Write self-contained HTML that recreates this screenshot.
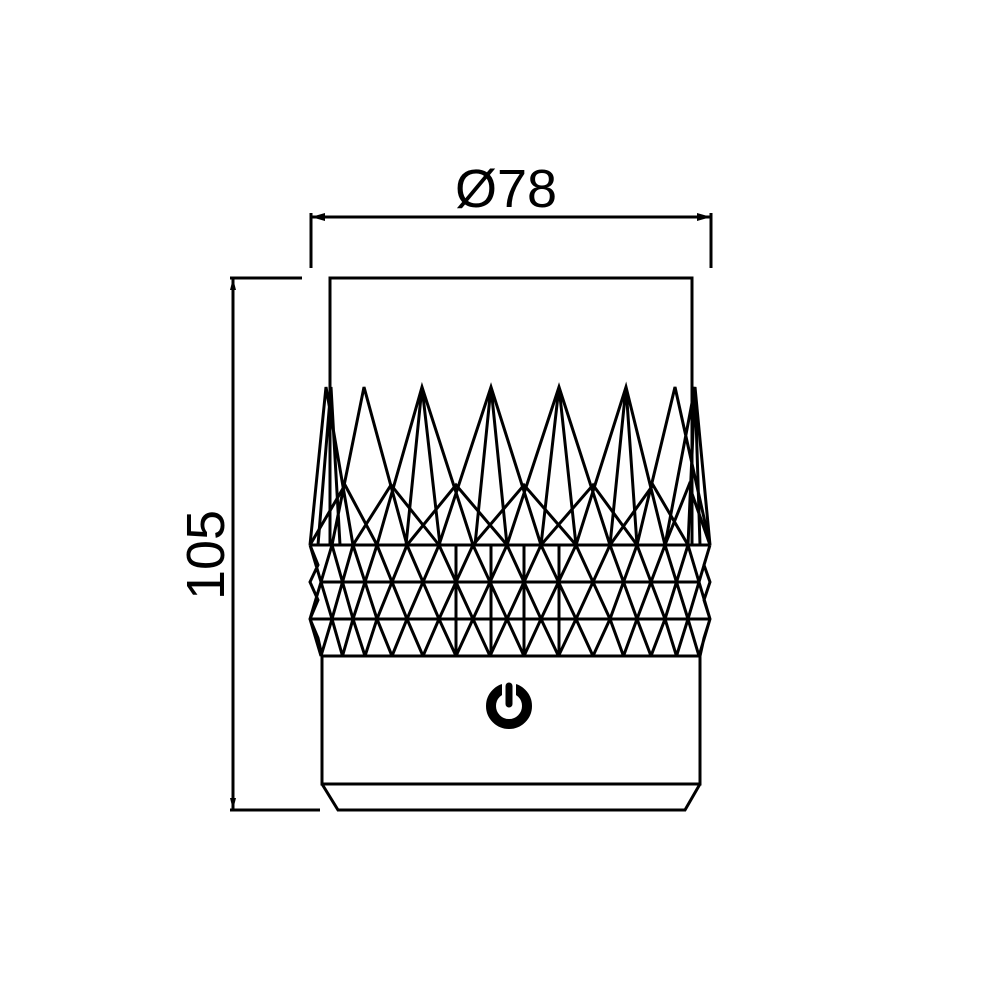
<!DOCTYPE html>
<html><head><meta charset="utf-8"><style>
html,body{margin:0;padding:0;background:#fff;}
svg{display:block}
</style></head><body>
<svg width="1000" height="1000" viewBox="0 0 1000 1000" xmlns="http://www.w3.org/2000/svg">
<g fill="none" stroke="#000" stroke-width="3" stroke-linejoin="miter">
<line x1="311" y1="213" x2="311" y2="268"/>
<line x1="711" y1="213" x2="711" y2="268"/>
<line x1="311" y1="217" x2="711" y2="217"/>
<line x1="230" y1="278" x2="302" y2="278"/>
<line x1="230" y1="810" x2="320" y2="810"/>
<line x1="233" y1="278" x2="233" y2="810"/>
<polyline points="330,545 330,278 692,278 692,545"/>
<rect x="322" y="656" width="378" height="128"/>
<polyline points="322,784 338,810 685,810 700,784"/>
<line x1="310" y1="545" x2="710" y2="545"/>
<line x1="321" y1="582" x2="699" y2="582"/>
<line x1="310" y1="619" x2="710" y2="619"/>
<path d="
M310,545 L321,582 L310,619 L321,656 M332,545 L321,582 L332,619 L321,656
M332,545 L342.5,582 L332,619 L342.5,656 M353,545 L342.5,582 L353,619 L342.5,656
M353,545 L365,582 L353,619 L365,656 M377,545 L365,582 L377,619 L365,656
M377,545 L392,582 L377,619 L392,656 M407,545 L392,582 L407,619 L392,656
M407,545 L423,582 L407,619 L423,656 M439,545 L423,582 L439,619 L423,656
M439,545 L456,582 L439,619 L456,656 M473,545 L456,582 L473,619 L456,656
M473,545 L490,582 L473,619 L490,656 M507,545 L490,582 L507,619 L490,656
M507,545 L524,582 L507,619 L524,656 M541,545 L524,582 L541,619 L524,656
M541,545 L558.5,582 L541,619 L558.5,656 M576,545 L558.5,582 L576,619 L558.5,656
M576,545 L593,582 L576,619 L593,656 M610,545 L593,582 L610,619 L593,656
M610,545 L623.5,582 L610,619 L623.5,656 M637,545 L623.5,582 L637,619 L623.5,656
M637,545 L651,582 L637,619 L651,656 M665,545 L651,582 L665,619 L651,656
M665,545 L676.5,582 L665,619 L676.5,656 M688,545 L676.5,582 L688,619 L676.5,656
M688,545 L699,582 L688,619 L699,656 M710,545 L699,582 L710,619 L699,656
M310,545 L318,565 L310,582 L318,600 L310,619 L318,638 L322,656
M710,545 L704,565 L710,582 L704,600 L710,619 L704,638 L700,656
M491,545 L491,656 M524,545 L524,656 M456,545 L456,656 M559,545 L559,656
"/>
<path d="
M310,545 L326,387 L353,545
M318,545 L331,387 L340,545
M332,545 L364,387 L407,545
M377,545 L422,387 L473,545
M406,545 L422,387 L440,545
M439,545 L491,387 L541,545
M475,545 L491,387 L507,545
M507,545 L559,387 L610,545
M541,545 L559,387 L576,545
M576,545 L626,387 L665,545
M610,545 L626,387 L637,545
M637,545 L675,387 L710,545
M665,545 L695,387 L710,545
M688,545 L695,387 L700,545
"/>
<path d="
M310,545 L345,485 L377,545
M353,545 L391,485 L439,545
M407,545 L456,485 L507,545
M473,545 L524,485 L576,545
M541,545 L593,485 L637,545
M610,545 L653,485 L688,545
M665,545 L689,485 L710,545
"/>
</g>
<g fill="#000">
<polygon points="311,217 325,213 325,221"/>
<polygon points="711,217 697,213 697,221"/>
<polygon points="233,278 230,290 236,290"/>
<polygon points="233,810 230,798 236,798"/>
</g>
<g>
<circle cx="509" cy="706" r="18" fill="none" stroke="#000" stroke-width="10"/>
<rect x="502" y="682" width="14" height="24" fill="#fff"/>
<line x1="509" y1="686" x2="509" y2="704" stroke="#000" stroke-width="7" stroke-linecap="round"/>
</g>
<text x="506" y="207" font-family="Liberation Sans, Arial, sans-serif" font-size="54" text-anchor="middle">Ø78</text>
<text transform="translate(224,555) rotate(-90)" font-family="Liberation Sans, Arial, sans-serif" font-size="54" text-anchor="middle">105</text>
</svg>
</body></html>
